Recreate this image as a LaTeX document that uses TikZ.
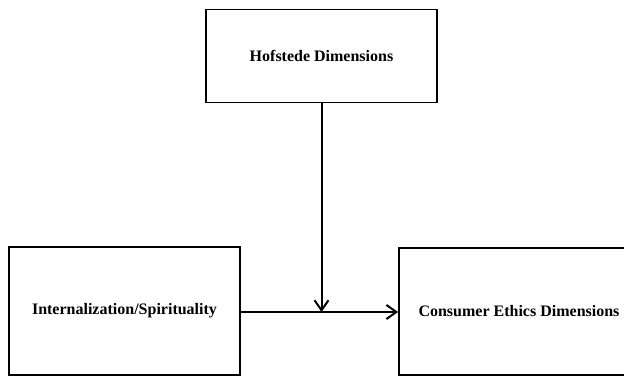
\documentclass[tikz,border=0pt]{standalone}
\usepackage{fontspec}
\setmainfont{Liberation Serif}
\usetikzlibrary{positioning, arrows.meta}

\tikzset{
    factorbox/.style={draw, line width=1.7pt, inner sep=0pt, align=center,
        font=\fontsize{16}{19}\selectfont\bfseries},
    flow/.style={line width=2pt, -{Straight Barb[length=10pt, width=14pt, line width=2pt]}}
}

\begin{document}
\begin{tikzpicture}[x=1pt, y=-1pt]
    \useasboundingbox (0, 0) rectangle (624, 379);
    \clip (0, 0) rectangle (624, 379);
    \node[factorbox, minimum width=231pt, minimum height=93pt] (hofstede) at (321.5, 56) {Hofstede Dimensions};
    \node[factorbox, minimum width=231pt, minimum height=128pt] (spirit) at (124.5, 311) {Internalization/Spirituality};
    \node[factorbox, minimum width=240pt, minimum height=127pt] (ethics) at (519, 311.5) {Consumer Ethics Dimensions};
    \coordinate (meet) at (hofstede.south |- 0, 312);

    \draw[flow] (spirit.east |- meet) -- (ethics.west |- meet);
    \draw[flow] (hofstede.south) -- (meet);
\end{tikzpicture}
\end{document}
